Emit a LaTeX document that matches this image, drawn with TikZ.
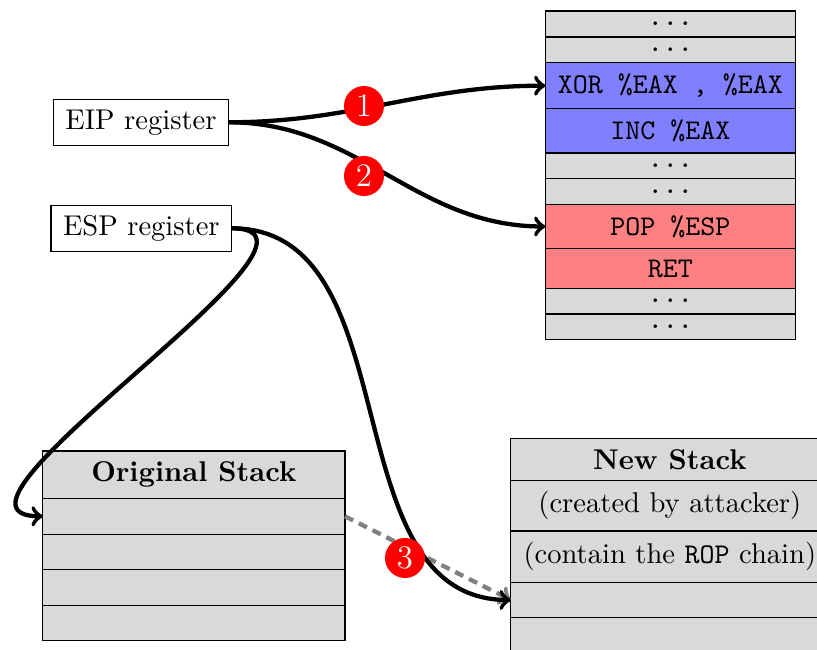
\documentclass[tikz,border=0pt]{standalone}
\newcommand\mycell[7]{\node[#1, minimum width={(#4-#2)*0.35pt}, minimum height={(#5-#3)*0.35pt}] (#6) at ({(#2+#4)/2},{(#3+#5)/2}) {#7};}
\begin{document}
\begin{tikzpicture}[x=0.35pt,y=-0.35pt,
  cell/.style={draw, line width=0.4pt, inner sep=0pt, outer sep=0pt, fill=gray!30},
  bluecell/.style={cell, fill=blue!50},
  redcell/.style={cell, fill=red!50},
  reg/.style={draw, line width=0.4pt, inner sep=0pt, outer sep=0pt, fill=white},
  num/.style={circle, fill=red, text=white, inner sep=0pt, minimum size=14pt, font=\fontsize{11.5pt}{14pt}\selectfont},
  conn/.style={->, line width=1.5pt},
  dconn/.style={->, line width=1.5pt, gray, dash pattern=on 3.2pt off 2.2pt}]
\clip (0,0) rectangle (817,650);
% code memory
\mycell{cell}{545.3}{11}{795.3}{37}{c1}{\texttt{...}}
\mycell{cell}{545.3}{37}{795.3}{62.7}{c2}{\texttt{...}}
\mycell{bluecell}{545.3}{62.7}{795.3}{108.7}{xor}{\texttt{XOR \%EAX , \%EAX}}
\mycell{bluecell}{545.3}{108.7}{795.3}{153}{inc}{\texttt{INC \%EAX}}
\mycell{cell}{545.3}{153}{795.3}{178.7}{c5}{\texttt{...}}
\mycell{cell}{545.3}{178.7}{795.3}{204.3}{c6}{\texttt{...}}
\mycell{redcell}{545.3}{204.3}{795.3}{248.7}{pop}{\texttt{POP \%ESP}}
\mycell{redcell}{545.3}{248.7}{795.3}{288.3}{ret}{\texttt{RET}}
\mycell{cell}{545.3}{288.3}{795.3}{314}{c9}{\texttt{...}}
\mycell{cell}{545.3}{314}{795.3}{339.3}{c10}{\texttt{...}}
% registers
\mycell{reg}{53.3}{99.3}{228.7}{145.3}{eip}{EIP register}
\mycell{reg}{51}{205.3}{231.7}{251.3}{esp}{ESP register}
% original stack
\mycell{cell}{42.7}{451}{345}{498.3}{o1}{\textbf{Original Stack}}
\mycell{cell}{42.7}{498.3}{345}{534.3}{o2}{}
\mycell{cell}{42.7}{534.3}{345}{569.7}{o3}{}
\mycell{cell}{42.7}{569.7}{345}{605.3}{o4}{}
\mycell{cell}{42.7}{605.3}{345}{640.3}{o5}{}
% new stack
\mycell{cell}{510.7}{438.3}{829}{480.7}{n1}{\textbf{New Stack}}
\mycell{cell}{510.7}{480.7}{829}{531}{n2}{(created by attacker)}
\mycell{cell}{510.7}{531}{829}{582.3}{n3}{(contain the \texttt{ROP} chain)}
\mycell{cell}{510.7}{582.3}{829}{617.7}{n4}{}
\mycell{cell}{510.7}{617.7}{829}{653}{n5}{}
% connectors
\draw[conn] (eip.east) to[out=0,in=180] (xor.west);
\draw[conn] (eip.east) to[out=0,in=180] (pop.west);
\draw[conn] (esp.east) to[out=0,in=180] (o2.west);
\draw[dconn] (o2.east) -- (n4.west);
\draw[conn] (esp.east) to[out=0,in=180] (n4.west);
% step numbers
\node[num] (s1) at (364,106) {1};
\node[num] (s2) at (364,176) {2};
\node[num] (s3) at (405,558) {3};
\end{tikzpicture}
\end{document}
